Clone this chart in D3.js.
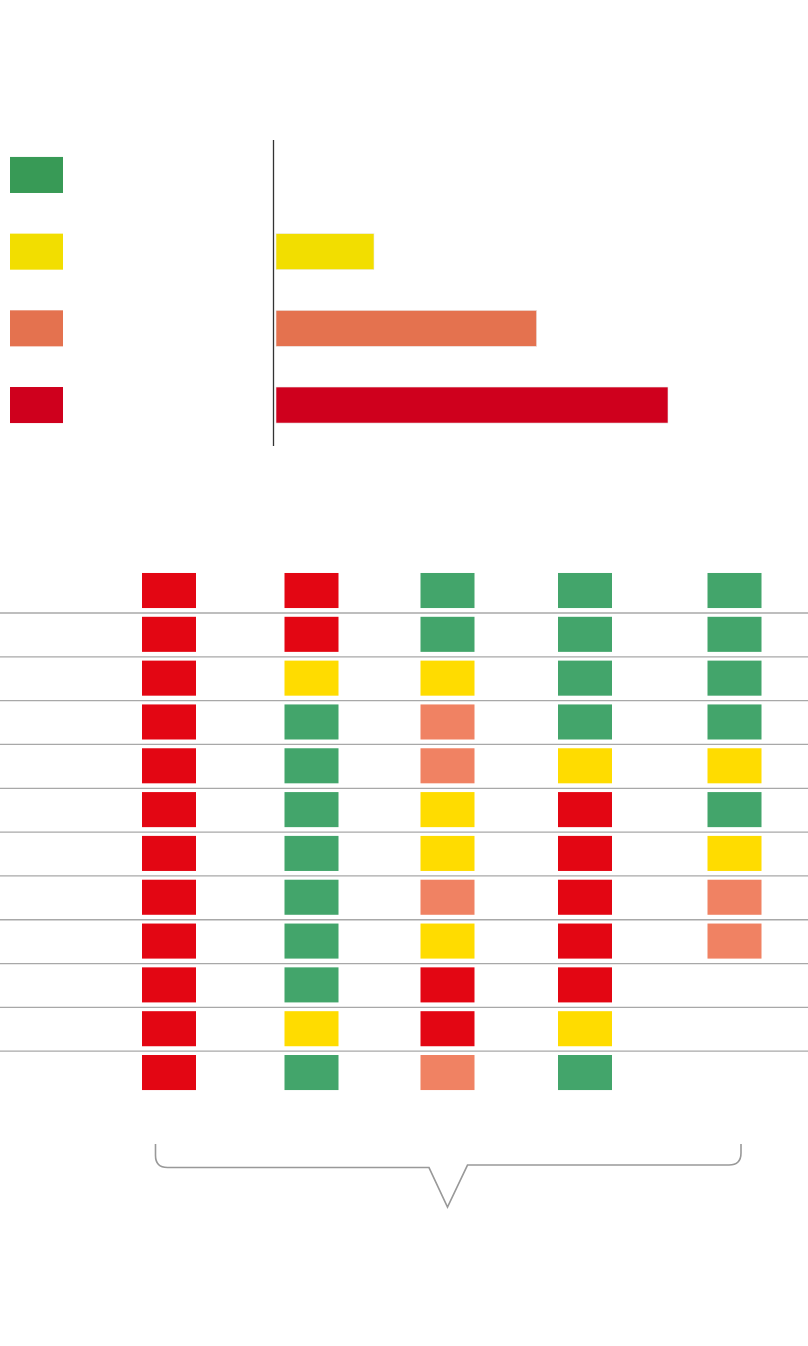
<!DOCTYPE html>
<html>
<head>
<meta charset="utf-8">
<script src="https://cdn.jsdelivr.net/npm/d3@7"></script>
<style>
  html, body { margin: 0; padding: 0; background: #fff; }
  svg { display: block; }
</style>
</head>
<body>
<svg id="chart" width="808" height="1346"></svg>
<script>
'use strict';

// top bar chart
const LEVELS = ['green', 'yellow', 'orange', 'red'];
const LEVEL_VALUES = [0, 10, 26.6, 40];

// bottom grid
const COLUMNS = ['c1', 'c2', 'c3', 'c4', 'c5'];
const ROWS = ['r1', 'r2', 'r3', 'r4', 'r5', 'r6', 'r7', 'r8', 'r9', 'r10', 'r11', 'r12'];
const GRID = [
  ['R', 'R', 'G', 'G', 'G'],
  ['R', 'R', 'G', 'G', 'G'],
  ['R', 'Y', 'Y', 'G', 'G'],
  ['R', 'G', 'O', 'G', 'G'],
  ['R', 'G', 'O', 'Y', 'Y'],
  ['R', 'G', 'Y', 'R', 'G'],
  ['R', 'G', 'Y', 'R', 'Y'],
  ['R', 'G', 'O', 'R', 'O'],
  ['R', 'G', 'Y', 'R', 'O'],
  ['R', 'G', 'R', 'R', null],
  ['R', 'Y', 'R', 'Y', null],
  ['R', 'G', 'O', 'G', null]
];

const BAR_COLORS = {green: '#389a56', yellow: '#f2de00', orange: '#e4724f', red: '#cf001d'};
const CELL_COLORS = {G: '#43a56b', Y: '#ffdc00', O: '#f08263', R: '#e30613'};

const svg = d3.select('#chart');

/***** BARS *****/
const barY = d3.scaleBand()
  .domain(LEVELS)
  .range([137, 443])
  .paddingInner(0.53)
  .paddingOuter(0.26);
const barX = d3.scaleLinear()
  .domain([0, 40])
  .range([276, 668]);

const $bars = svg.append('g');

$bars.selectAll('.legend')
  .data(LEVELS)
  .join('rect')
  .attr('class', 'legend')
  .attr('x', 10)
  .attr('y', d => barY(d))
  .attr('width', 53)
  .attr('height', barY.bandwidth())
  .attr('fill', d => BAR_COLORS[d]);

$bars.selectAll('.bar')
  .data(LEVELS)
  .join('rect')
  .attr('class', 'bar')
  .attr('x', barX(0))
  .attr('y', d => barY(d))
  .attr('width', (d, i) => barX(LEVEL_VALUES[i]) - barX(0))
  .attr('height', barY.bandwidth())
  .attr('fill', d => BAR_COLORS[d])
  .attr('stroke', '#ececec')
  .attr('stroke-width', 0.6);

$bars.append('line')
  .attr('x1', 273.5).attr('x2', 273.5)
  .attr('y1', 140).attr('y2', 446)
  .attr('stroke', '#333')
  .attr('stroke-width', 1.3);

/***** GRID *****/
const colX = d3.scaleOrdinal()
  .domain(COLUMNS)
  .range([169, 311.5, 447.5, 585, 734.5]);
const rowY = d3.scaleBand()
  .domain(ROWS)
  .range([568.6, 568.6 + 43.82 * ROWS.length])
  .paddingInner(0.2)
  .paddingOuter(0.1);
const cellW = 54;

const $grid = svg.append('g');

$grid.selectAll('.sep')
  .data(ROWS.slice(1))
  .join('line')
  .attr('class', 'sep')
  .attr('x1', 0).attr('x2', 808)
  .attr('y1', d => rowY(d) - 3.8)
  .attr('y2', d => rowY(d) - 3.8)
  .attr('stroke', '#a8a8a8')
  .attr('stroke-width', 1.3);

const cells = [];
GRID.forEach((row, i) => row.forEach((v, j) => {
  if (v) cells.push({row: ROWS[i], col: COLUMNS[j], v});
}));

$grid.selectAll('.cell')
  .data(cells)
  .join('rect')
  .attr('class', 'cell')
  .attr('x', d => colX(d.col) - cellW / 2)
  .attr('y', d => rowY(d.row))
  .attr('width', cellW)
  .attr('height', rowY.bandwidth())
  .attr('fill', d => CELL_COLORS[d.v]);

/***** BRACE *****/
const bLeft = colX('c1') - 13.5;
const bRight = colX('c5') + 6.5;
const bTop = rowY('r12') + rowY.bandwidth() + 54;
const tipX = colX('c3');
const r = 12;
const p = d3.path();
p.moveTo(bLeft, bTop);
p.lineTo(bLeft, bTop + 23.5 - r);
p.quadraticCurveTo(bLeft, bTop + 23.5, bLeft + r, bTop + 23.5);
p.lineTo(tipX - 18.5, bTop + 23.5);
p.lineTo(tipX, bTop + 63);
p.lineTo(tipX + 20, bTop + 21);
p.lineTo(bRight - r, bTop + 21);
p.quadraticCurveTo(bRight, bTop + 21, bRight, bTop + 21 - r);
p.lineTo(bRight, bTop);

svg.append('path')
  .attr('d', p.toString())
  .attr('fill', 'none')
  .attr('stroke', '#999')
  .attr('stroke-width', 1.6);
</script>
</body>
</html>
